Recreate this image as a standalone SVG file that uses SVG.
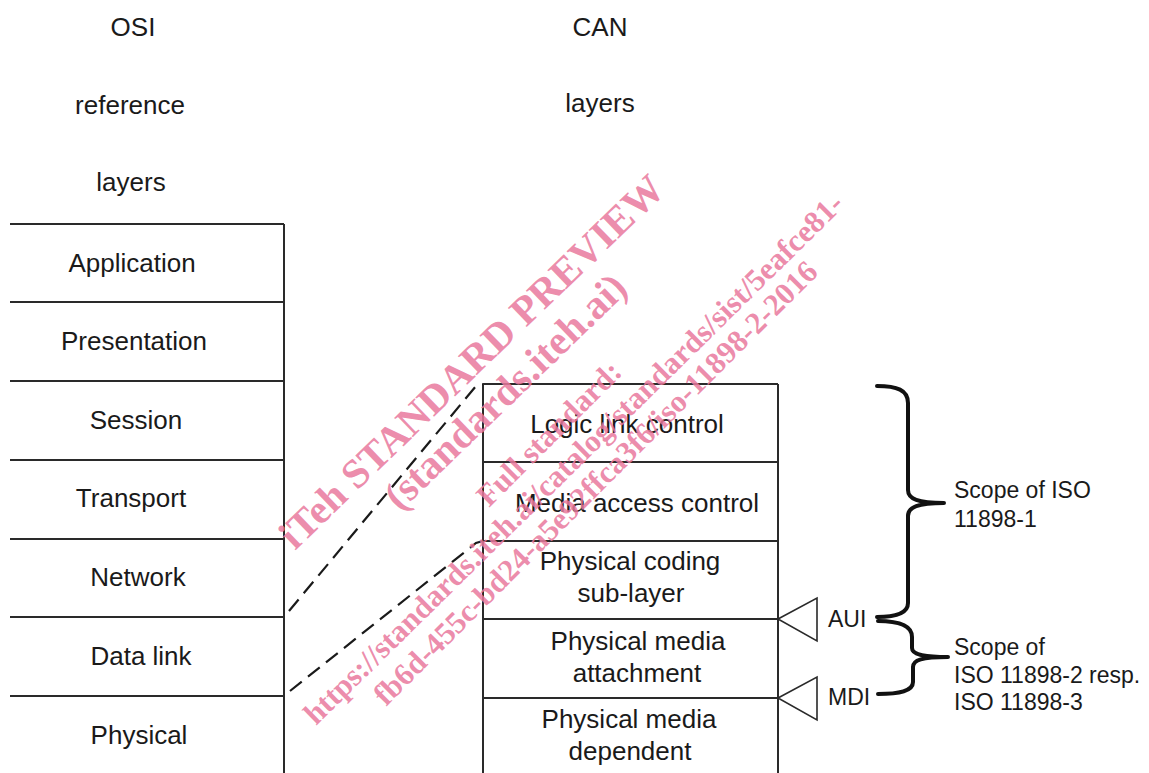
<svg xmlns="http://www.w3.org/2000/svg" width="1149" height="773" viewBox="0 0 1149 773">
  <style>
    .t { font-family: "Liberation Sans", Arial, sans-serif; font-size: 26px; fill: #1a1a1a; text-anchor: middle; }
    .s { font-family: "Liberation Sans", Arial, sans-serif; font-size: 23px; fill: #1a1a1a; }
    .ln { stroke: #2a2a2a; stroke-width: 2; fill: none; }
    .dash { stroke: #1a1a1a; stroke-width: 2.2; fill: none; stroke-dasharray: 15 8; }
    .br { stroke: #111; stroke-width: 4; fill: none; stroke-linejoin: round; stroke-linecap: round; }
    .tri { stroke: #2a2a2a; stroke-width: 1.6; fill: #fff; }
    .wm { font-family: "Liberation Serif", "Times New Roman", serif; font-weight: bold; fill: #e9799d; fill-opacity: 0.85; }
  </style>
  <rect width="1149" height="773" fill="#fff"/>

  <g id="headers">
    <text class="t" x="133" y="36">OSI</text>
    <text class="t" x="130" y="114">reference</text>
    <text class="t" x="131" y="191">layers</text>
    <text class="t" x="600" y="36">CAN</text>
    <text class="t" x="600" y="112">layers</text>
  </g>

  <g id="osi-frame">
    <path class="ln" d="M284,224 V773"/>
  </g>
  <g id="osi-application"><path class="ln" d="M10,224 H284"/><text class="t" x="132" y="272">Application</text></g>
  <g id="osi-presentation"><path class="ln" d="M10,302 H284"/><text class="t" x="134" y="350">Presentation</text></g>
  <g id="osi-session"><path class="ln" d="M10,381 H284"/><text class="t" x="136" y="429">Session</text></g>
  <g id="osi-transport"><path class="ln" d="M10,460 H284"/><text class="t" x="131" y="507">Transport</text></g>
  <g id="osi-network"><path class="ln" d="M10,539 H284"/><text class="t" x="138" y="586">Network</text></g>
  <g id="osi-datalink"><path class="ln" d="M10,617 H284"/><text class="t" x="141" y="665">Data link</text></g>
  <g id="osi-physical"><path class="ln" d="M10,696 H284"/><text class="t" x="139" y="744">Physical</text></g>

  <g id="can-frame">
    <path class="ln" d="M483,384 V773 M778,384 V773"/>
  </g>
  <g id="can-llc"><path class="ln" d="M483,384 H778"/><text class="t" x="627" y="433">Logic link control</text></g>
  <g id="can-mac"><path class="ln" d="M483,462 H778"/><text class="t" x="637" y="512">Media access control</text></g>
  <g id="can-pcs"><path class="ln" d="M483,541 H778"/><text class="t" x="630" y="570">Physical coding</text><text class="t" x="631" y="602">sub-layer</text></g>
  <g id="can-pma"><path class="ln" d="M483,619 H778"/><text class="t" x="638" y="650">Physical media</text><text class="t" x="637" y="682">attachment</text></g>
  <g id="can-pmd"><path class="ln" d="M483,698 H778"/><text class="t" x="629" y="728">Physical media</text><text class="t" x="630" y="760">dependent</text></g>

  <g id="aui"><polygon class="tri" points="778,619 817,598 817,641"/><text class="s" x="828" y="627">AUI</text></g>
  <g id="mdi"><polygon class="tri" points="778,698 817,677 817,720"/><text class="s" x="828" y="705">MDI</text></g>

  <g id="scope-1">
    <path class="br" d="M877,386 C897,386 908,390 908,403 L908,490 C908,499 918,503 944,503 C918,503 908,507 908,516 L908,603 C908,613 897,617 877,617"/>
    <text class="s" x="954" y="498">Scope of ISO</text>
    <text class="s" x="954" y="527">11898-1</text>
  </g>
  <g id="scope-2">
    <path class="br" d="M878,621 C898,621 912,625 912,637 L912,648 C912,654 922,657 948,657 C922,657 913,660 913,667 L913,682 C913,691 900,694 878,694"/>
    <text class="s" x="954" y="655">Scope of</text>
    <text class="s" x="954" y="683">ISO 11898-2 resp.</text>
    <text class="s" x="954" y="710">ISO 11898-3</text>
  </g>

  <g id="connectors">
    <path class="dash" d="M289,611 L476,386 L483,384"/>
    <path class="dash" d="M290,691 L476,543 L483,541"/>
  </g>

  <g id="watermark">
    <text class="wm" font-size="41" transform="translate(295,551) rotate(-44)">iTeh STANDARD PREVIEW</text>
    <text class="wm" font-size="41" transform="translate(400,512) rotate(-44)">(standards.iteh.ai)</text>
    <text class="wm" font-size="31" transform="translate(489,508) rotate(-45)">Full standard:</text>
    <text class="wm" font-size="31" transform="translate(316,726) rotate(-44.5)">https://standards.iteh.ai/catalog/standards/sist/5eafce81-</text>
    <text class="wm" font-size="31" transform="translate(386,707) rotate(-45)">fb6d-455c-bd24-a5e92ffca3f6/iso-11898-2-2016</text>
  </g>
</svg>
